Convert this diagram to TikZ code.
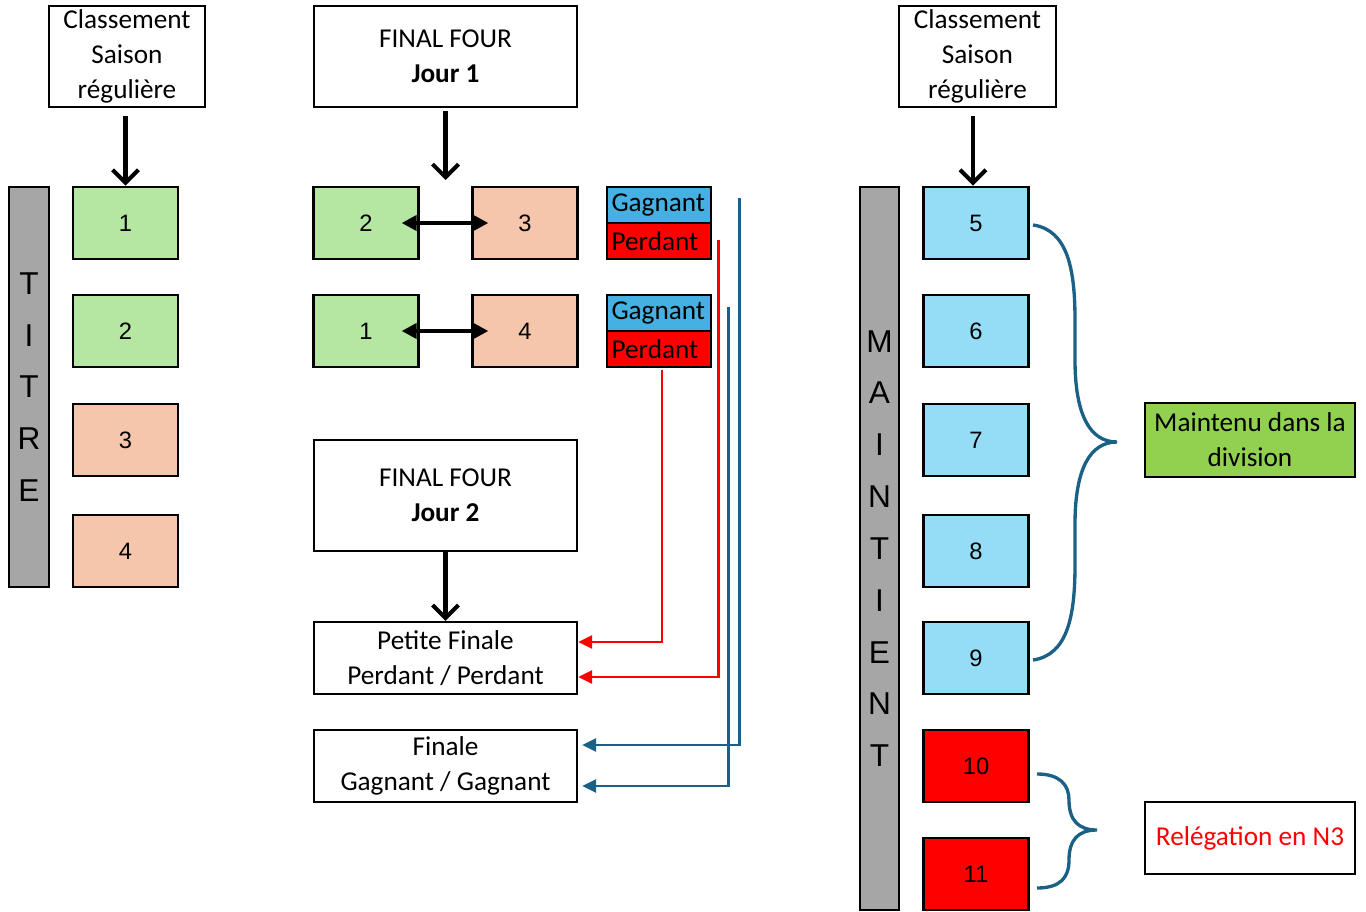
\documentclass[tikz,border=0pt]{standalone}
\usepackage{fontspec}
\setmainfont{Carlito}
\newfontfamily\numfont{Liberation Sans}
\usetikzlibrary{arrows.meta,calc}
\definecolor{vertclair}{HTML}{B5E6A2}
\definecolor{saumon}{HTML}{F6C6AC}
\definecolor{bleuclair}{HTML}{95DCF7}
\definecolor{gris}{HTML}{A6A6A6}
\definecolor{bleugagnant}{HTML}{45B0E1}
\definecolor{vertmaintien}{HTML}{92D050}
\definecolor{bleufonce}{HTML}{1B6186}
\newcommand{\PointeType}{Triangle[length=2.8mm,width=2.6mm]}

\begin{document}
\begin{tikzpicture}[x=0.02cm,y=-0.02cm,
  boite/.style={draw,line width=1.3pt,inner sep=0pt,align=center,font=\fontsize{15.5}{20}\selectfont},
  num/.style={draw,line width=1.3pt,minimum width=2.1cm,minimum height=1.45cm,inner sep=0pt,font=\numfont\fontsize{13.5}{16}\selectfont},
  barre/.style={draw,line width=1.3pt,fill=gris,inner sep=0pt,align=center,font=\numfont\fontsize{18}{29.5}\selectfont},
  resultat/.style={draw,line width=1.3pt,minimum height=0.72cm,text width=1.9cm,inner xsep=0.09cm,inner ysep=0pt,align=left,font=\fontsize{15.5}{18}\selectfont},
  fleche/.style={line width=2.3pt,-{Straight Barb[length=2.6mm,width=5.2mm]}},
  duel/.style={line width=2.3pt,{Triangle[length=3mm,width=3mm]}-{Triangle[length=3mm,width=3mm]}},
  lien/.style={line width=1.6pt,-{\PointeType}},
  accolade/.style={line width=1.9pt,color=bleufonce}]
\useasboundingbox (0,0) rectangle (1366,912);

% colonne titre
\node[boite,minimum width=3.12cm,minimum height=2.02cm] (clL) at (127,56.5) {Classement\\Saison\\régulière};
\node[barre,minimum width=0.8cm,minimum height=8cm] (titre) at (29,387) {T\\I\\T\\R\\E};
\node[num,fill=vertclair] (t1) at (125.5,223) {1};
\node[num,fill=vertclair] (t2) at (125.5,331) {2};
\node[num,fill=saumon] (t3) at (125.5,440) {3};
\node[num,fill=saumon] (t4) at (125.5,551) {4};
\draw[fleche] ($(t1.north|-clL.south)+(0,8)$) -- (t1.north);

% final four
\node[boite,minimum width=5.26cm,minimum height=2.02cm] (ffa) at (445.5,56.5) {FINAL FOUR\\\textbf{Jour 1}};
\node[num,fill=vertclair] (a2) at (366,223) {2};
\node[num,fill=saumon] (a3) at (525,223) {3};
\node[num,fill=vertclair] (a1) at (366,331) {1};
\node[num,fill=saumon] (a4) at (525,331) {4};
\coordinate (j1) at (445.5,180);
\draw[fleche] ($(ffa.south)+(0,3)$) -- (j1);
\draw[duel] ($(a2.east)+(-18,0)$) -- ($(a3.west)+(17,0)$);
\draw[duel] ($(a1.east)+(-18,0)$) -- ($(a4.west)+(17,0)$);

\node[resultat,fill=bleugagnant] (g1) at (659,205) {Gagnant};
\node[resultat,fill=red] (p1) at (659,241) {Perdant};
\node[resultat,fill=bleugagnant] (g2) at (659,313) {Gagnant};
\node[resultat,fill=red] (p2) at (659,349) {Perdant};

\node[boite,minimum width=5.26cm,minimum height=2.22cm] (ffb) at (445.5,495.5) {FINAL FOUR\\\textbf{Jour 2}};
\node[boite,minimum width=5.26cm,minimum height=1.44cm] (petite) at (445.5,658) {Petite Finale\\Perdant / Perdant};
\node[boite,minimum width=5.26cm,minimum height=1.44cm] (finale) at (445.5,766) {Finale\\Gagnant / Gagnant};
\draw[fleche] (ffb.south) -- (petite.north);

\draw[lien,red] ($(p2.south)+(3,2)$) |- ($(petite.east)+(0,-16)$);
\draw[lien,red] ($(p1.east)+(6,-1)$) |- ($(petite.east)+(0,19)$);
\draw[lien,bleufonce] ($(g1.east)+(27,-7)$) |- ($(finale.east)+(4,-21)$);
\draw[lien,bleufonce] ($(g2.east)+(16,-6)$) |- ($(finale.east)+(4,20)$);

% colonne maintien
\node[boite,minimum width=3.14cm,minimum height=2.02cm] (clR) at (977.5,56.5) {Classement\\Saison\\régulière};
\node[barre,minimum width=0.78cm,minimum height=14.46cm] (maintient) at (879.5,548.5) {M\\A\\I\\N\\T\\I\\E\\N\\T};
\node[num,fill=bleuclair] (m5) at (976,223) {5};
\node[num,fill=bleuclair] (m6) at (976,331) {6};
\node[num,fill=bleuclair] (m7) at (976,440) {7};
\node[num,fill=bleuclair] (m8) at (976,551) {8};
\node[num,fill=bleuclair] (m9) at (976,658) {9};
\node[num,fill=red] (m10) at (976,766) {10};
\node[num,fill=red] (m11) at (976,874) {11};
\draw[fleche] ($(m5.north|-clR.south)+(-3,8)$) -- ($(m5.north)+(-3,0)$);

\node[boite,fill=vertmaintien,minimum width=4.2cm,minimum height=1.48cm] (maintenu) at (1250,440) {Maintenu dans la\\division};
\node[boite,text=red,minimum width=4.2cm,minimum height=1.44cm] (releg) at (1250,838) {Relégation en N3};

% accolades
\draw[accolade] (1033,225) .. controls (1068,230) and (1075,270) .. (1075,320)
  -- (1075,360) .. controls (1075,415) and (1090,442) .. (1117,442)
  .. controls (1090,442) and (1075,469) .. (1075,524)
  -- (1075,565) .. controls (1075,615) and (1068,655) .. (1033,660);
\draw[accolade] (1037,774) .. controls (1060,774) and (1069,785) .. (1069,800)
  .. controls (1069,820) and (1078,830) .. (1097,830)
  .. controls (1078,830) and (1069,840) .. (1069,860)
  .. controls (1069,878) and (1060,888) .. (1037,888);
\end{tikzpicture}
\end{document}
